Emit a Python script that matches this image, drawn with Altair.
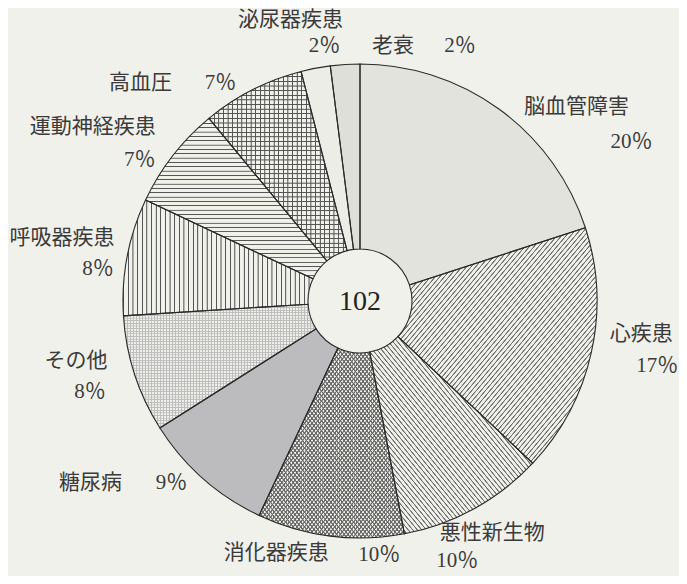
import altair as alt
import pandas as pd

# ---- data ----
categories = ["脳血管障害", "心疾患", "悪性新生物", "消化器疾患", "糖尿病", "その他",
              "呼吸器疾患", "運動神経疾患", "高血圧", "泌尿器疾患", "老衰"]
percents = [20, 17, 10, 10, 9, 8, 8, 7, 7, 2, 2]
center_label = "102"

df = pd.DataFrame({"cat": categories, "pct": percents,
                   "order": list(range(len(categories)))})

# ---- styling ----
CX, CY = 352, 293          # pie centre inside the plot area
R_OUT, R_IN = 237, 52
BG = "#f1f1ec"
FONT = "Liberation Serif, Noto Sans CJK JP"
TXT = "#3a3a3a"

DIAG_UP = (0, 0, 1, 1)     # "/" lines
DIAG_DOWN = (0, 1, 1, 0)   # "\" lines
VERT = (0, 0, 1, 0)        # vertical lines
HORZ = (0, 0, 0, 1)        # horizontal lines


def rgba0(hexcol):
    h = hexcol.lstrip("#")
    r, g, b = int(h[0:2], 16), int(h[2:4], 16), int(h[4:6], 16)
    return f"rgba({r},{g},{b},0)"


def hatch(n, vec, line, bg, f):
    if bg is None:
        bg = rgba0(line)
    x1, y1, x2, y2 = vec
    d = 1.0 / n
    r = f * 0.4 * d
    core = f * 0.6 * d
    stops = []
    for k in range(n):
        a = k * d
        for off, col in [(a, bg), (a + r, line), (a + r + core, line),
                         (a + 2 * r + core, bg), (a + d, bg)]:
            stops.append({"offset": round(min(off, 1.0), 6), "color": col})
    return {"gradient": "linear", "x1": x1, "y1": y1, "x2": x2, "y2": y2,
            "stops": stops}


patterns = {
    "脳血管障害": ["#e3e3de"],
    "心疾患": [hatch(87, DIAG_UP, "#6e6e6e", BG, 0.3)],
    "悪性新生物": [hatch(72, DIAG_DOWN, "#6e6e6e", BG, 0.3)],
    "消化器疾患": [hatch(77, DIAG_UP, "#6a6a6a", BG, 0.4),
                 hatch(77, DIAG_DOWN, "#6a6a6a", None, 0.4)],
    "糖尿病": ["#bcbcbf"],
    "その他": [hatch(64, VERT, "#bdbdbd", BG, 0.35),
             hatch(47, HORZ, "#bdbdbd", None, 0.35)],
    "呼吸器疾患": [hatch(41, VERT, "#555555", BG, 0.22)],
    "運動神経疾患": [hatch(37, HORZ, "#555555", BG, 0.22)],
    "高血圧": [hatch(30, VERT, "#555555", BG, 0.22),
            hatch(41, HORZ, "#555555", None, 0.22)],
    "泌尿器疾患": ["#ededE8"],
    "老衰": ["#dfdfd9"],
}

# label nudges (name line, percent line) relative to the polar anchor
LABEL_R = 285
label_style = {
    "脳血管障害": ((49, 37), (104, 72)),
    "心疾患": ((3, -29), (19, 3)),
    "悪性新生物": ((-5, -18), (-40, 10)),
    "消化器疾患": ((-48, -31), (55, -29)),
    "糖尿病": ((-81, -32), (0, -32)),
    "その他": ((-13, -28), (1, 3)),
    "呼吸器疾患": ((-18, -10), (18, 21)),
    "運動神経疾患": ((-42, 1), (5, 34)),
    "高血圧": ((-90, 36), (-10, 36)),
    "泌尿器疾患": ((-16, -1), (18, 25)),
    "老衰": ((51, 29), (118, 29)),
}

theta_scale = alt.Scale(domain=[0, 100])

base = (alt.Chart(df)
        .transform_window(cum="sum(pct)", sort=[alt.SortField("order")],
                          frame=[None, 0])
        .transform_calculate(start="datum.cum - datum.pct",
                             mid="datum.cum - datum.pct / 2",
                             ptxt="datum.pct + '％'"))

layers = []
for cat in categories:
    for fill in patterns[cat]:
        layers.append(
            base.transform_filter(alt.datum.cat == cat)
            .mark_arc(outerRadius=R_OUT, innerRadius=R_IN, fill=fill,
                      strokeWidth=0)
            .encode(theta=alt.Theta("start:Q", scale=theta_scale, stack=False),
                    theta2="cum:Q", x=alt.value(CX), y=alt.value(CY))
        )

# outlines
layers.append(
    base.mark_arc(outerRadius=R_OUT, innerRadius=R_IN, fillOpacity=0,
                  stroke="#2a2a2a", strokeWidth=1.1)
    .encode(theta=alt.Theta("start:Q", scale=theta_scale, stack=False),
            theta2="cum:Q", x=alt.value(CX), y=alt.value(CY))
)

# labels
for cat in categories:
    (n_dx, n_dy), (p_dx, p_dy) = label_style[cat]
    for field, dx, dy in [("cat", n_dx, n_dy), ("ptxt", p_dx, p_dy)]:
        layers.append(
            base.transform_filter(alt.datum.cat == cat)
            .mark_text(font=FONT, fontSize=21, color=TXT, align="center",
                       baseline="middle", dx=dx, dy=dy)
            .encode(theta=alt.Theta("mid:Q", scale=theta_scale, stack=False),
                    radius=alt.value(LABEL_R),
                    x=alt.value(CX), y=alt.value(CY),
                    text=alt.Text(f"{field}:N"))
        )

# centre total
layers.append(
    alt.Chart(pd.DataFrame({"t": [center_label]}))
    .mark_text(font=FONT, fontSize=28, color="#222222", align="center",
               baseline="middle")
    .encode(x=alt.value(CX), y=alt.value(CY + 1), text="t:N")
)

chart = (alt.layer(*layers)
         .properties(width=671, height=568, padding=0, autosize="none",
                     background=BG)
         .configure_view(strokeWidth=0))

chart.save("out.html", embed_options={"renderer": "svg", "actions": False})
